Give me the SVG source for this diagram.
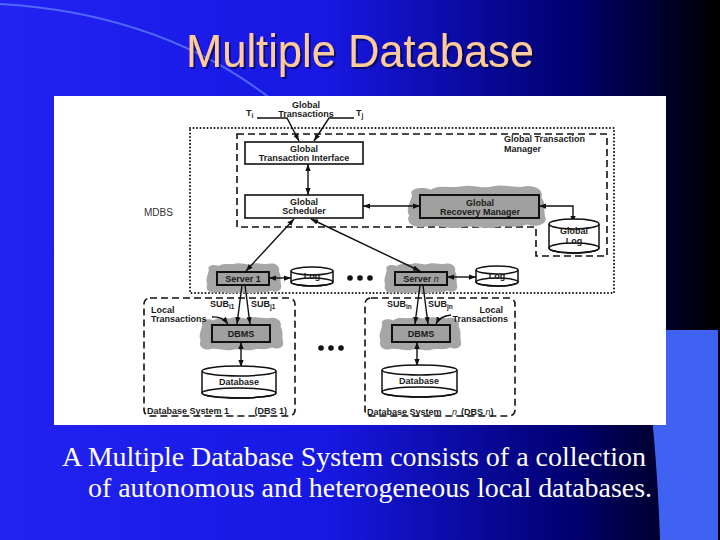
<svg xmlns="http://www.w3.org/2000/svg" xmlns:xlink="http://www.w3.org/1999/xlink" width="720" height="540" viewBox="0 0 720 540">
<defs>
<linearGradient id="bg" x1="0" y1="0" x2="1" y2="0">
<stop offset="0" stop-color="#2222F2"/>
<stop offset="0.45" stop-color="#1818E4"/>
<stop offset="0.8" stop-color="#00006E"/>
<stop offset="1" stop-color="#000000"/>
</linearGradient>
<filter id="shadow" x="-5%" y="-20%" width="115%" height="150%">
<feDropShadow dx="2" dy="2" stdDeviation="0.6" flood-color="#000030" flood-opacity="0.6"/>
</filter>
<marker id="ah" viewBox="0 0 8 6" refX="8" refY="3" markerWidth="7" markerHeight="5.5" markerUnits="userSpaceOnUse" orient="auto-start-reverse">
<path d="M0,0 L8,3 L0,6 z" fill="#111"/>
</marker>
<symbol id="cloud" viewBox="0 0 100 40" preserveAspectRatio="none">
<path d="M5,10 C2,4 12,2 18,5 C24,0 34,4 40,2 C48,0 55,5 62,2 C70,0 78,4 85,2 C92,1 98,6 96,12 C100,18 97,24 99,30 C100,36 92,39 86,36 C78,40 70,36 62,39 C54,40 46,36 38,39 C30,40 22,36 14,38 C6,40 0,34 3,28 C0,22 4,16 5,10 Z" fill="#a6a6a6"/>
</symbol>
<style>
.lb{font-family:"Liberation Sans",Arial,sans-serif;font-weight:bold;font-size:9px;fill:#1a1a1a;text-anchor:middle}
.ls{font-family:"Liberation Sans",Arial,sans-serif;font-weight:bold;font-size:9px;fill:#1a1a1a}
.sub{font-size:6.5px;fill:#1a1a1a}
.box{fill:#fff;stroke:#111;stroke-width:1.6}
.gbox{fill:#a0a0a0;stroke:#111;stroke-width:2}
.cyl{fill:#fff;stroke:#111;stroke-width:1.5}
.cylb{fill:none;stroke:#111;stroke-width:1.5}
.dash{fill:none;stroke:#111;stroke-width:1.6;stroke-dasharray:7 4}
.dot{fill:none;stroke:#111;stroke-width:2;stroke-dasharray:0 3.5;stroke-linecap:round}
.cn{fill:none;stroke:#111;stroke-width:1.4}
.arr{marker-end:url(#ah)}
.both{marker-start:url(#ah);marker-end:url(#ah)}
</style>
</defs>

<!-- slide background -->
<rect x="0" y="0" width="720" height="540" fill="url(#bg)"/>
<path d="M0,4 Q170,14 285,110" fill="none" stroke="#5c7cff" stroke-width="2" opacity="0.8"/>
<path d="M640,330 Q656,420 660,540 L718,540 L718,330 Z" fill="#3f62f2"/>

<text x="360" y="67" filter="url(#shadow)" font-family="'Liberation Sans',Arial,sans-serif" font-size="46" text-anchor="middle" textLength="348" lengthAdjust="spacingAndGlyphs" fill="#FFCC99">Multiple Database</text>

<!-- figure -->
<rect x="54" y="96" width="612" height="329" fill="#ffffff"/>

<g id="containers">
<rect class="dot" x="190" y="128" width="424" height="165"/>
<path class="dash" d="M237,134 H607 V256 H536 V227 H237 Z"/>
<rect class="dash" x="144" y="298" width="151" height="118" rx="6"/>
<rect class="dash" x="365" y="298" width="150" height="118" rx="6"/>
<text x="144" y="216" font-family="'Liberation Sans',Arial,sans-serif" font-size="10" fill="#333">MDBS</text>
<text class="ls" x="504" y="142">Global Transaction</text>
<text class="ls" x="504" y="152">Manager</text>
</g>

<g id="clouds">
<use xlink:href="#cloud" x="405" y="184" width="142" height="45"/>
<use xlink:href="#cloud" x="205" y="262" width="77" height="32"/>
<use xlink:href="#cloud" x="383" y="262" width="75" height="32"/>
<use xlink:href="#cloud" x="198" y="316" width="86" height="35"/>
<use xlink:href="#cloud" x="378" y="316" width="84" height="35"/>
</g>

<g id="connectors">
<polyline class="cn arr" points="257,118 287,118 299,141"/>
<polyline class="cn arr" points="354,118 329,118 314,141"/>
<line class="cn both" x1="308" y1="164" x2="308" y2="195"/>
<line class="cn both" x1="363" y1="206" x2="420" y2="206"/>
<polyline class="cn both" points="539,206 573,206 573,223"/>
<line class="cn both" x1="294" y1="219" x2="246" y2="271"/>
<line class="cn both" x1="311" y1="219" x2="420" y2="271"/>
<line class="cn both" x1="269" y1="278" x2="291" y2="278"/>
<line class="cn both" x1="447" y1="277" x2="476" y2="277"/>
<line class="cn arr" x1="242" y1="285" x2="237" y2="324"/>
<line class="cn arr" x1="245" y1="285" x2="250" y2="324"/>
<line class="cn arr" x1="420" y1="285" x2="415" y2="324"/>
<line class="cn arr" x1="423" y1="285" x2="428" y2="324"/>
<path class="cn arr" d="M212,317 Q222,316 228,324"/>
<path class="cn arr" d="M451,315 Q440,316 436,324"/>
<line class="cn both" x1="241" y1="342" x2="241" y2="367"/>
<line class="cn both" x1="417" y1="342" x2="417" y2="366"/>
</g>

<g id="global-transactions">
<text class="lb" x="306" y="107.5">Global</text>
<text class="lb" x="306" y="116.5">Transactions</text>
<text class="ls" x="246" y="116">T<tspan class="sub" dy="2">i</tspan></text>
<text class="ls" x="356" y="116">T<tspan class="sub" dy="2">j</tspan></text>
</g>

<g id="gti">
<rect class="box" x="245" y="142" width="118" height="22"/>
<text class="lb" x="304" y="152">Global</text>
<text class="lb" x="304" y="161">Transaction Interface</text>
</g>

<g id="gs">
<rect class="box" x="245" y="195" width="118" height="23"/>
<text class="lb" x="304" y="205">Global</text>
<text class="lb" x="304" y="214">Scheduler</text>
</g>

<g id="grm">
<rect class="gbox" x="420" y="195" width="119" height="23"/>
<text class="lb" x="480" y="205.5">Global</text>
<text class="lb" x="480" y="214.5">Recovery Manager</text>
</g>

<g id="global-log">
<path class="cyl" d="M549,224 V248 A25,5 0 0 0 599,248 V224"/>
<ellipse class="cyl" cx="574" cy="224" rx="25" ry="5"/>
<ellipse class="cylb" cx="574" cy="248" rx="25" ry="5"/>
<text class="lb" x="574" y="234">Global</text>
<text class="lb" x="574" y="244">Log</text>
</g>

<g id="server1">
<rect class="gbox" x="217" y="272" width="52" height="13"/>
<text class="lb" x="243" y="282">Server 1</text>
</g>

<g id="log1">
<path class="cyl" d="M291,271 V282 A21,4 0 0 0 333,282 V271"/>
<ellipse class="cyl" cx="312" cy="271" rx="21" ry="4"/>
<ellipse class="cylb" cx="312" cy="282" rx="21" ry="4"/>
<text class="lb" x="312" y="279">Log</text>
</g>

<g id="servern">
<rect class="gbox" x="395" y="272" width="52" height="13"/>
<text class="lb" x="421" y="282">Server <tspan font-style="italic" font-weight="normal">n</tspan></text>
</g>

<g id="logn">
<path class="cyl" d="M476,270 V282 A21,4 0 0 0 518,282 V270"/>
<ellipse class="cyl" cx="497" cy="270" rx="21" ry="4"/>
<ellipse class="cylb" cx="497" cy="282" rx="21" ry="4"/>
<text class="lb" x="497" y="279">Log</text>
</g>

<g id="ellipsis">
<circle cx="350" cy="278" r="2.8" fill="#111"/>
<circle cx="360" cy="278" r="2.8" fill="#111"/>
<circle cx="370" cy="278" r="2.8" fill="#111"/>
<circle cx="321" cy="348" r="2.8" fill="#111"/>
<circle cx="331" cy="348" r="2.8" fill="#111"/>
<circle cx="341" cy="348" r="2.8" fill="#111"/>
</g>

<g id="dbs1">
<text class="ls" x="210" y="307">SUB<tspan class="sub" dy="1.5">i1</tspan></text>
<text class="ls" x="251" y="307">SUB<tspan class="sub" dy="1.5">j1</tspan></text>
<text class="ls" x="151" y="313">Local</text>
<text class="ls" x="151" y="322">Transactions</text>
<text class="ls" x="147" y="414">Database System 1</text>
<text class="ls" x="287" y="414" text-anchor="end">(DBS 1)</text>
</g>

<g id="dbms1">
<rect class="gbox" x="212" y="325" width="58" height="17"/>
<text class="lb" x="241" y="337">DBMS</text>
</g>

<g id="db1">
<path class="cyl" d="M202,371 V393 A37,5 0 0 0 276,393 V371"/>
<ellipse class="cyl" cx="239" cy="371" rx="37" ry="5"/>
<ellipse class="cylb" cx="239" cy="393" rx="37" ry="5"/>
<text class="lb" x="239" y="385">Database</text>
</g>

<g id="dbsn">
<text class="ls" x="387" y="307">SUB<tspan class="sub" dy="1.5">in</tspan></text>
<text class="ls" x="428" y="307">SUB<tspan class="sub" dy="1.5">jn</tspan></text>
<text class="ls" x="503" y="313" text-anchor="end">Local</text>
<text class="ls" x="508" y="322" text-anchor="end">Transactions</text>
<text class="ls" x="367" y="415">Database System <tspan dx="8" font-style="italic" font-weight="normal">n</tspan><tspan dx="4">(DBS </tspan><tspan font-style="italic" font-weight="normal">n</tspan>)</text>
</g>

<g id="dbmsn">
<rect class="gbox" x="392" y="325" width="58" height="17"/>
<text class="lb" x="421" y="337">DBMS</text>
</g>

<g id="dbn">
<path class="cyl" d="M382,370 V392 A37.5,5 0 0 0 457,392 V370"/>
<ellipse class="cyl" cx="419.5" cy="370" rx="37.5" ry="5"/>
<ellipse class="cylb" cx="419.5" cy="392" rx="37.5" ry="5"/>
<text class="lb" x="419" y="384">Database</text>
</g>

<!-- caption -->
<text x="62" y="466" font-family="'Liberation Serif','Times New Roman',serif" font-size="28" fill="#ffffff" textLength="584" lengthAdjust="spacingAndGlyphs">A Multiple Database System consists of a collection</text>
<text x="88" y="497" font-family="'Liberation Serif','Times New Roman',serif" font-size="28" fill="#ffffff" textLength="564" lengthAdjust="spacingAndGlyphs">of autonomous and heterogeneous local databases.</text>
</svg>
